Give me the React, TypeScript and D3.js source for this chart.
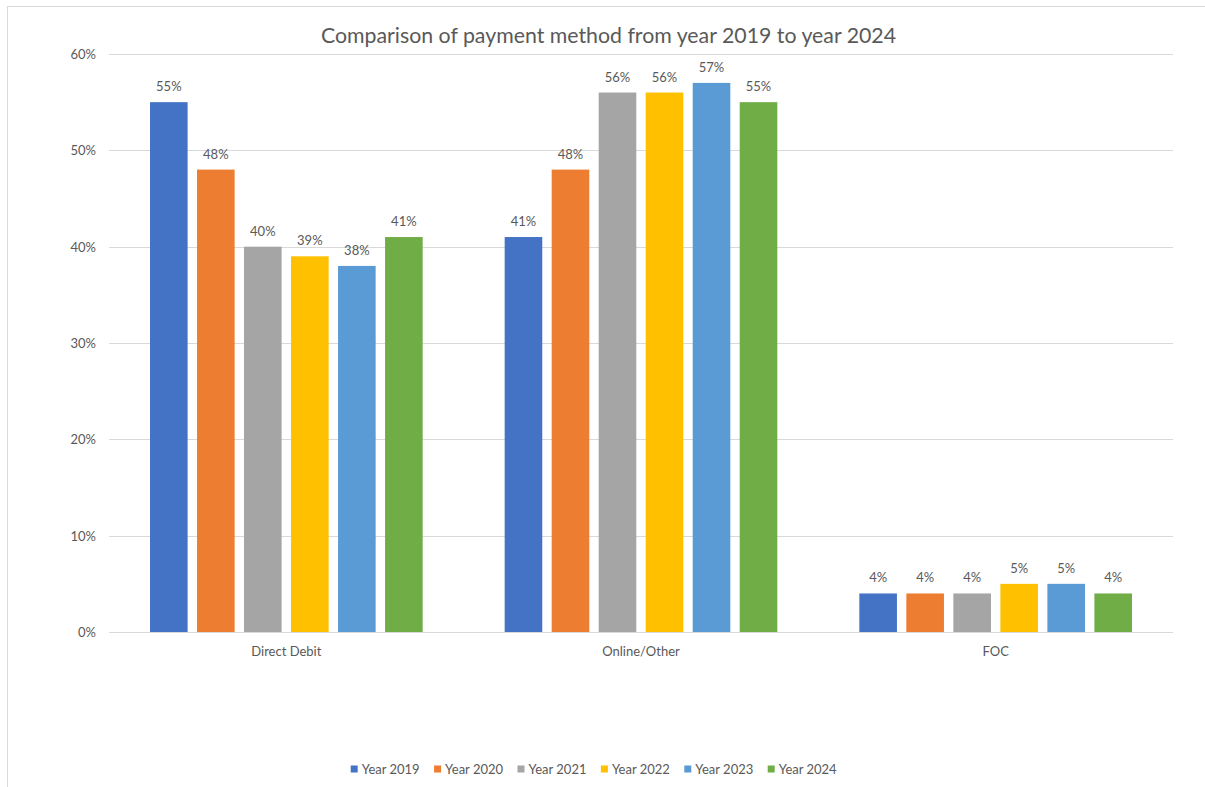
import React from "react";
import * as d3 from "d3";

const categories = ["Direct Debit", "Online/Other", "FOC"];
const seriesNames = ["Year 2019", "Year 2020", "Year 2021", "Year 2022", "Year 2023", "Year 2024"];
const seriesColors = ["#4472C4", "#ED7D31", "#A5A5A5", "#FFC000", "#5B9BD5", "#70AD47"];
const directDebit = [55, 48, 40, 39, 38, 41];
const onlineOther = [41, 48, 56, 56, 57, 55];
const foc = [4, 4, 4, 5, 5, 4];
const yTicks = [0, 10, 20, 30, 40, 50, 60];
const title = "Comparison of payment method from year 2019 to year 2024";

const W = 1205;
const H = 787;
const FONT = "Lato, 'Open Sans', sans-serif";
const TXT = "#595959";

export default function App() {
  const values = [directDebit, onlineOther, foc];
  const x0 = d3.scaleBand<string>().domain(categories).range([109, 1173]).padding(0);
  const bw = x0.bandwidth();
  const x1 = d3.scaleBand<string>().domain(seriesNames).range([41, bw - 41]).paddingInner(0.2).paddingOuter(0);
  const y = d3.scaleLinear().domain([0, 60]).range([632, 54]);

  const legendStart = 350.7;
  const legendStep = 83.4;

  return (
    <svg width={W} height={H} style={{ position: "absolute", left: 0, top: 0, background: "#fff" }} fontFamily={FONT}>
      <rect x={0} y={0} width={W} height={H} fill="#fff" />
      <rect x={7.5} y={6.5} width={W + 20} height={H + 20} fill="#fff" stroke="#d9d9d9" strokeWidth={1} />
      <text x={608.5} y={34.5} textAnchor="middle" dominantBaseline="central" fontSize={21.3} fill={TXT}>
        {title}
      </text>
      {yTicks.map((t) => (
        <g key={t}>
          <line x1={109} x2={1173} y1={Math.round(y(t)) + 0.5} y2={Math.round(y(t)) + 0.5} stroke="#d9d9d9" strokeWidth={1} />
          <text x={96} y={y(t)} textAnchor="end" dominantBaseline="central" fontSize={13} fill={TXT}>
            {t + "%"}
          </text>
        </g>
      ))}
      {categories.map((c, ci) => (
        <g key={c} transform={`translate(${x0(c)},0)`}>
          {seriesNames.map((s, si) => {
            const v = values[ci][si];
            const bx = x1(s)!;
            return (
              <g key={s}>
                <rect x={bx} y={y(v)} width={x1.bandwidth()} height={y(0) - y(v)} fill={seriesColors[si]} />
                <text x={bx + x1.bandwidth() / 2} y={y(v) - 11} textAnchor="middle" fontSize={13} fill={TXT}>
                  {v + "%"}
                </text>
              </g>
            );
          })}
          <text x={bw / 2} y={651} textAnchor="middle" dominantBaseline="central" fontSize={13} fill={TXT}>
            {c}
          </text>
        </g>
      ))}
      {seriesNames.map((s, i) => (
        <g key={s} transform={`translate(${legendStart + i * legendStep},769)`}>
          <rect x={0} y={-3.5} width={7} height={7} fill={seriesColors[i]} />
          <text x={11} y={0} dominantBaseline="central" fontSize={13} fill={TXT}>
            {s}
          </text>
        </g>
      ))}
    </svg>
  );
}
